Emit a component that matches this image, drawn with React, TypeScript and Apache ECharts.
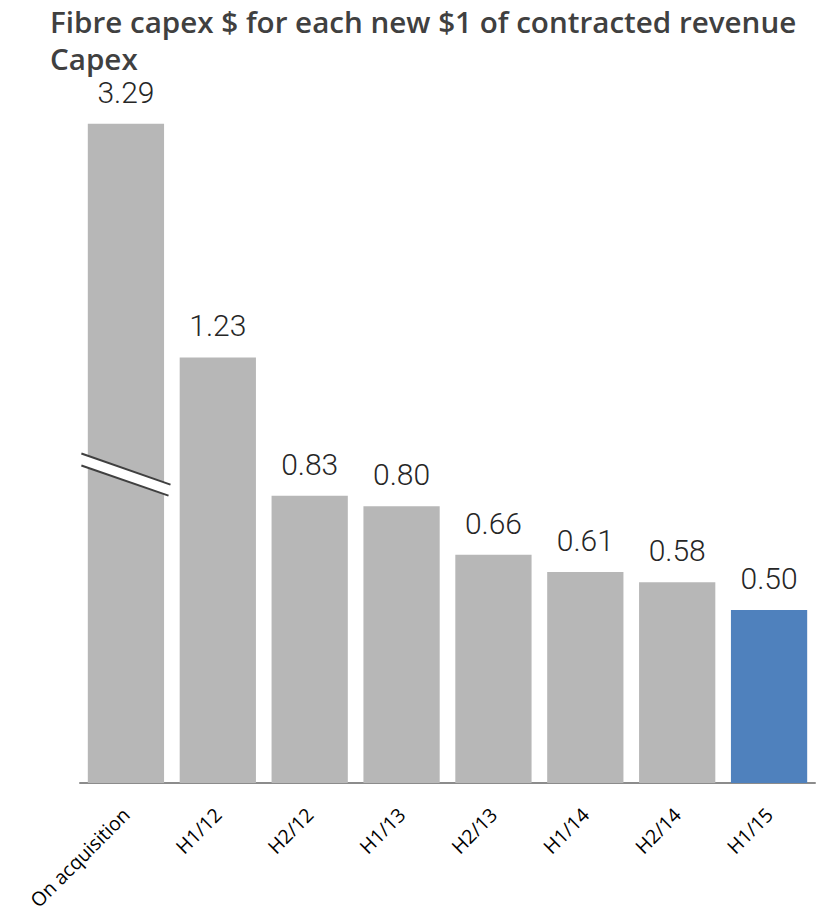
import React, { useEffect, useRef } from "react";
import * as echarts from "echarts";

const titleLine1 = "Fibre capex $ for each new $1 of contracted revenue";
const titleLine2 = "Capex";
const categories = ["On acquisition", "H1/12", "H2/12", "H1/13", "H2/13", "H1/14", "H2/14", "H1/15"];
const actualValues = [3.29, 1.23, 0.83, 0.8, 0.66, 0.61, 0.58, 0.5];
// first bar is drawn on a broken (truncated) axis
const displayValues = [1.905, 1.23, 0.83, 0.8, 0.66, 0.61, 0.58, 0.5];
const barColors = ["#b7b7b7", "#b7b7b7", "#b7b7b7", "#b7b7b7", "#b7b7b7", "#b7b7b7", "#b7b7b7", "#4f81bd"];
const breakValue = 0.89;

export default function App() {
  const ref = useRef<HTMLDivElement>(null);
  useEffect(() => {
    if (!ref.current) return;
    const chart = echarts.init(ref.current, undefined, { renderer: "svg" });
    const titleStyle = {
      fontFamily: "Open Sans",
      fontWeight: 600,
      fontSize: 29.6,
      lineHeight: 28,
      color: "#404040",
    };
    chart.setOption({
      animation: false,
      title: [
        { text: titleLine1, left: 50, top: 7.5, padding: 0, textStyle: titleStyle },
        { text: titleLine2, left: 50, top: 44.75, padding: 0, textStyle: titleStyle },
      ],
      grid: { left: 80, right: 16, top: 91, bottom: 137, outerBoundsMode: "none" },
      xAxis: {
        type: "category",
        data: categories,
        axisLine: { lineStyle: { color: "#8c8c8c", width: 2 } },
        axisTick: { show: false },
        axisLabel: {
          rotate: 45,
          margin: 28,
          fontFamily: "Open Sans",
          fontSize: 19.5,
          color: "#000",
          interval: 0,
        },
      },
      yAxis: {
        type: "value",
        min: 0,
        max: 2,
        show: false,
        splitLine: { show: false },
      },
      series: [
        {
          type: "bar",
          data: displayValues.map((v, i) => ({
            value: v,
            itemStyle: { color: barColors[i] },
          })),
          barCategoryGap: "17%",
          label: {
            show: true,
            position: "top",
            distance: 18.5,
            fontFamily: "Roboto",
            fontWeight: 300,
            fontSize: 30,
            lineHeight: 26,
            color: "#262626",
            formatter: (p: any) => actualValues[p.dataIndex].toFixed(2),
          },
        },
      ],
    });
    const c0 = chart.convertToPixel({ xAxisIndex: 0, yAxisIndex: 0 }, [0, breakValue]) as number[];
    const c1 = chart.convertToPixel({ xAxisIndex: 0, yAxisIndex: 0 }, [1, breakValue]) as number[];
    const catW = c1[0] - c0[0];
    const half = catW * 0.485;
    const slope = 0.35;
    const gap = 12;
    const x1 = c0[0] - half;
    const x2 = c0[0] + half;
    const yA1 = c0[1] - half * slope - gap / 2;
    const yA2 = c0[1] + half * slope - gap / 2;
    chart.setOption({
      graphic: [
        {
          type: "polygon",
          shape: {
            points: [
              [x1, yA1],
              [x2, yA2],
              [x2, yA2 + gap],
              [x1, yA1 + gap],
            ],
          },
          style: { fill: "#ffffff" },
          z: 100,
        },
        {
          type: "line",
          shape: { x1, y1: yA1, x2, y2: yA2 },
          style: { stroke: "#404040", lineWidth: 2 },
          z: 101,
        },
        {
          type: "line",
          shape: { x1, y1: yA1 + gap, x2: x2 - 2, y2: yA2 + gap - 1 },
          style: { stroke: "#404040", lineWidth: 2 },
          z: 101,
        },
      ],
    });
    return () => chart.dispose();
  }, []);
  return (
    <div
      ref={ref}
      style={{ position: "absolute", left: 0, top: 0, width: 831, height: 920 }}
    />
  );
}
